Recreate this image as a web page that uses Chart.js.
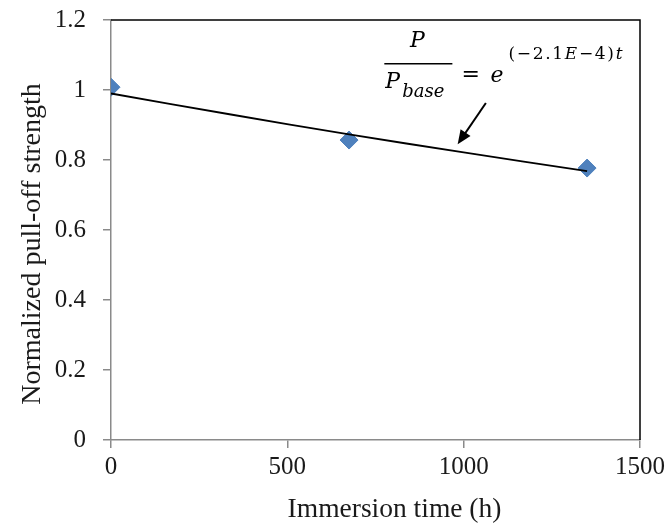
<!DOCTYPE html>
<html>
<head>
<meta charset="utf-8">
<script src="https://cdn.jsdelivr.net/npm/chart.js@4.4.1/dist/chart.umd.min.js"></script>
<style>
    html, body { margin: 0; padding: 0; background: #fff; }
    #wrap { width: 668px; height: 524px; }
</style>
</head>
<body>
<div id="wrap"><canvas id="pulloffChart" width="668" height="524"></canvas></div>
<script>
// measured points
const hours = [0, 675, 1350];
const strength = [1.008, 0.857, 0.777];

// exponential trendline
const trendHours = [0, 340, 675, 1000, 1350];
const trendStrength = [0.99, 0.93, 0.873, 0.822, 0.768];

const xTicks = [0, 500, 1000, 1500];
const yTicks = [0, 0.2, 0.4, 0.6, 0.8, 1, 1.2];

const xTitle = 'Immersion time (h)';
const yTitle = 'Normalized pull-off strength';

const axisGrey = '#8a8a8a';
const serif = '"Liberation Serif", "Times New Roman", serif';
const mathFont = '"DejaVu Serif", serif';

// top / right frame in black, axis titles, equation and arrow
const framePlugin = {
    id: 'framePlugin',
    afterDraw(chart) {
        const { ctx, chartArea: a, scales } = chart;
        ctx.save();
        ctx.strokeStyle = '#000';
        ctx.lineWidth = 1.5;
        ctx.beginPath();
        ctx.moveTo(a.left, a.top);
        ctx.lineTo(a.right, a.top);
        ctx.lineTo(a.right, a.bottom);
        ctx.stroke();

        // axis titles (sit a bit right / low of centre, as in the original)
        ctx.fillStyle = '#1a1a1a';
        ctx.font = '27.5px ' + serif;
        ctx.textAlign = 'center';
        ctx.textBaseline = 'middle';
        ctx.fillText(xTitle, (a.left + a.right) / 2 + 19, a.bottom + 70);
        ctx.save();
        ctx.translate(a.left - 78, (a.top + a.bottom) / 2 + 14);
        ctx.rotate(-Math.PI / 2);
        ctx.font = '28px ' + serif;
        ctx.fillText(yTitle, 0, 0);
        ctx.restore();

        // arrow pointing at the trendline
        ctx.fillStyle = '#000';
        const x = scales.x, y = scales.y;
        const tailX = x.getPixelForValue(1063), tailY = y.getPixelForValue(0.963);
        const tipX = x.getPixelForValue(983), tipY = y.getPixelForValue(0.845);
        const ang = Math.atan2(tipY - tailY, tipX - tailX);
        ctx.lineWidth = 2;
        ctx.beginPath();
        ctx.moveTo(tailX, tailY);
        ctx.lineTo(tipX - 8 * Math.cos(ang), tipY - 8 * Math.sin(ang));
        ctx.stroke();
        ctx.beginPath();
        ctx.moveTo(tipX, tipY);
        ctx.lineTo(tipX - 14 * Math.cos(ang) + 6 * Math.sin(ang), tipY - 14 * Math.sin(ang) - 6 * Math.cos(ang));
        ctx.lineTo(tipX - 14 * Math.cos(ang) - 6 * Math.sin(ang), tipY - 14 * Math.sin(ang) + 6 * Math.cos(ang));
        ctx.closePath();
        ctx.fill();

        // P / P_base = e^((-2.1E-4)t)
        const barL = x.getPixelForValue(775), barR = x.getPixelForValue(968);
        const barY = y.getPixelForValue(1.075);
        const mid = (barL + barR) / 2;
        ctx.lineWidth = 1.4;
        ctx.beginPath();
        ctx.moveTo(barL, barY);
        ctx.lineTo(barR, barY);
        ctx.stroke();

        ctx.textBaseline = 'alphabetic';
        ctx.textAlign = 'center';
        ctx.font = 'italic 22px ' + mathFont;
        ctx.fillText('P', mid - 1, barY - 17);

        ctx.textAlign = 'left';
        ctx.fillText('P', barL + 1, barY + 24);
        ctx.font = 'italic 18px ' + mathFont;
        ctx.fillText('base', barL + 18, barY + 33);

        ctx.font = '22px ' + mathFont;
        ctx.fillText('=', barR + 9, barY + 17);
        ctx.font = 'italic 22px ' + mathFont;
        ctx.fillText('e', barR + 38, barY + 18);

        const sup = [['(', false], ['\u2212', false], ['2', false], ['.', false], ['1', false],
                     ['E', true], ['\u2212', false], ['4', false], [')', false], ['t', true]];
        let cx = barR + 56;
        const supY = barY - 5;
        sup.forEach(([ch, it]) => {
            ctx.font = (it ? 'italic ' : '') + '17px ' + mathFont;
            ctx.fillText(ch, cx, supY);
            cx += ctx.measureText(ch).width + 1.7;
        });
        ctx.restore();
    }
};

new Chart(document.getElementById('pulloffChart'), {
    type: 'scatter',
    data: {
        datasets: [{
            label: 'Measured',
            data: hours.map((h, i) => ({ x: h, y: strength[i] })),
            pointStyle: 'rectRot',
            pointRadius: 9,
            pointBackgroundColor: '#4f81bd',
            pointBorderColor: '#4f81bd',
            pointBorderWidth: 1,
            order: 1
        }, {
            label: 'Trend',
            data: trendHours.map((h, i) => ({ x: h, y: trendStrength[i] })),
            showLine: true,
            borderColor: '#000',
            borderWidth: 1.8,
            pointRadius: 0,
            tension: 0.4,
            order: 0
        }]
    },
    options: {
        responsive: false,
        animation: false,
        layout: { padding: { top: 20, right: 28, left: 0, bottom: 0 } },
        plugins: {
            legend: { display: false },
            tooltip: { enabled: false }
        },
        scales: {
            x: {
                type: 'linear',
                min: 0,
                max: 1500,
                afterBuildTicks: s => { s.ticks = xTicks.map(v => ({ value: v })); },
                afterFit: s => { s.height = 84; s.paddingLeft = 0; s.paddingRight = 0; },
                grid: { drawOnChartArea: false, color: axisGrey, tickLength: 8, lineWidth: 1.5 },
                border: { color: axisGrey, width: 1.5 },
                ticks: {
                    color: '#1a1a1a',
                    padding: 4,
                    font: { family: serif, size: 25 },
                    maxRotation: 0,
                    callback: v => String(v)
                },
                title: { display: false }
            },
            y: {
                min: 0,
                max: 1.2,
                afterBuildTicks: s => { s.ticks = yTicks.map(v => ({ value: v })); },
                afterFit: s => { s.width = 111; s.paddingTop = 0; s.paddingBottom = 0; },
                grid: { drawOnChartArea: false, color: axisGrey, tickLength: 8, lineWidth: 1.5 },
                border: { color: axisGrey, width: 1.5 },
                ticks: {
                    color: '#1a1a1a',
                    padding: 17,
                    font: { family: serif, size: 25 },
                    callback: v => String(+v.toFixed(1))
                },
                title: { display: false }
            }
        }
    },
    plugins: [framePlugin]
});
</script>
</body>
</html>
